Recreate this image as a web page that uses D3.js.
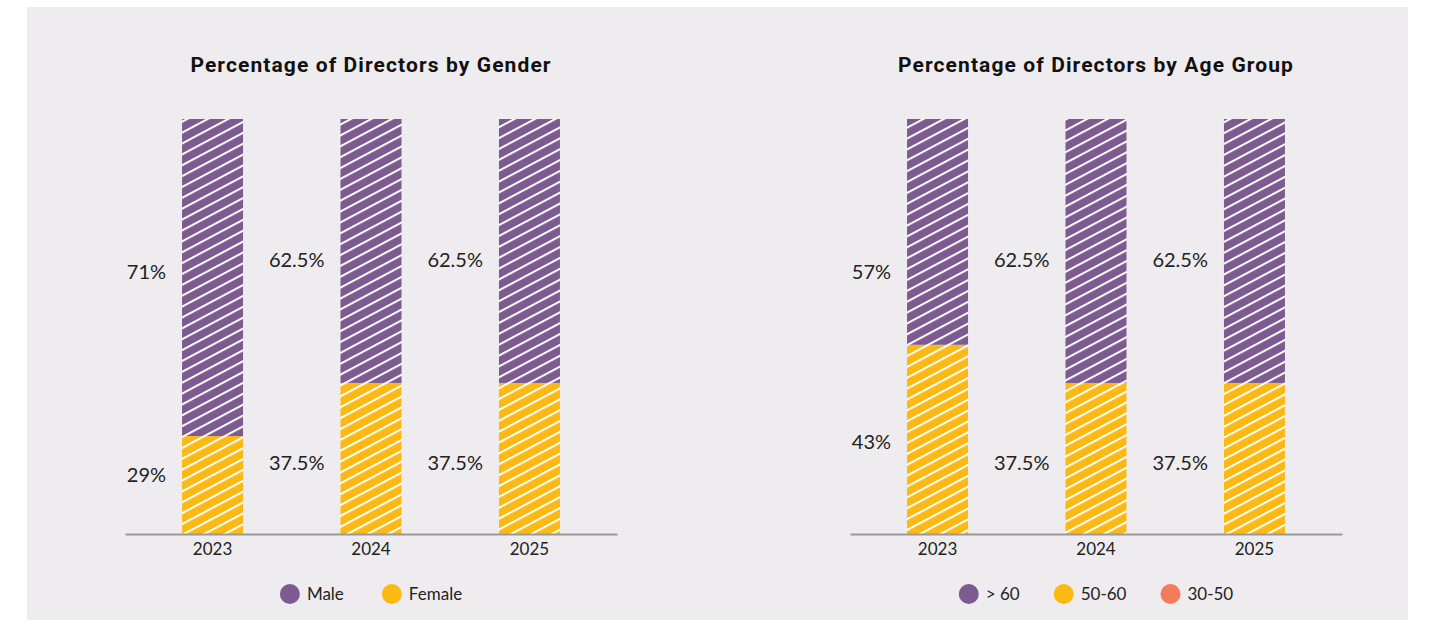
<!DOCTYPE html>
<html>
<head>
<meta charset="utf-8">
<script src="https://cdn.jsdelivr.net/npm/d3@7"></script>
<style>
  body { margin: 0; background: #fff; }
  svg { display: block; }
</style>
</head>
<body>
<div id="chart"></div>
<script>
const years = ["2023", "2024", "2025"];

const genderSeries = ["Male", "Female"];
const genderMale = [76.4, 63.6, 63.6];
const genderFemale = [23.6, 36.4, 36.4];
const genderMaleLabels = ["71%", "62.5%", "62.5%"];
const genderFemaleLabels = ["29%", "37.5%", "37.5%"];

const ageSeries = ["> 60", "50-60", "30-50"];
const ageOver60 = [54.4, 63.6, 63.6];
const age50to60 = [45.6, 36.4, 36.4];
const age30to50 = [0, 0, 0];
const ageOver60Labels = ["57%", "62.5%", "62.5%"];
const age50to60Labels = ["43%", "37.5%", "37.5%"];

/** CONSTANTS */
const width = 1454;
const height = 620;
const colors = ["#7d5a8f", "#fdb913", "#f47c5a"];
const barTop = 119, baseline = 534;
const textFont = "Lato, 'Open Sans', sans-serif";

const svg = d3.select("#chart")
  .append("svg")
  .attr("width", width)
  .attr("height", height);

// hatch patterns: white diagonal stripes on each colour
const defs = svg.append("defs");
colors.forEach((c, i) => {
  const p = defs.append("pattern")
    .attr("id", "hatch" + i)
    .attr("patternUnits", "userSpaceOnUse")
    .attr("width", 10)
    .attr("height", 9.6)
    .attr("patternTransform", "rotate(-28)");
  p.append("rect").attr("width", 10).attr("height", 9.6).attr("fill", c);
  p.append("rect").attr("y", 0).attr("width", 10).attr("height", 2).attr("fill", "#fff");
});

// panel background
svg.append("rect")
  .attr("x", 27).attr("y", 7)
  .attr("width", 1381).attr("height", 620)
  .attr("fill", "#eeecef");

function drawChart(opts) {
  const g = svg.append("g");

  const x = d3.scaleBand()
    .domain(years)
    .range([opts.x0, opts.x1])
    .paddingInner(0.615)
    .paddingOuter(0.36);

  const y = d3.scaleLinear()
    .domain([0, 100])
    .range([baseline, barTop]);

  const rows = years.map((yr, i) => ({ year: yr, lower: opts.lower[i], upper: opts.upper[i] }));
  const stack = d3.stack().keys(["lower", "upper"])(rows);

  // title
  g.append("text")
    .attr("x", (opts.x0 + opts.x1) / 2)
    .attr("y", 72)
    .attr("text-anchor", "middle")
    .attr("font-family", "Roboto, sans-serif")
    .attr("font-weight", 700)
    .attr("font-size", 21)
    .attr("letter-spacing", 1.1)
    .attr("fill", "#111")
    .text(opts.title);

  // stacked bars
  g.selectAll("g.layer")
    .data(stack)
    .join("g")
    .attr("class", "layer")
    .attr("fill", (d, i) => `url(#hatch${i === 0 ? 1 : 0})`)
    .selectAll("rect")
    .data(d => d)
    .join("rect")
    .attr("x", d => x(d.data.year))
    .attr("width", x.bandwidth())
    .attr("y", d => y(d[1]))
    .attr("height", d => y(d[0]) - y(d[1]));

  // value labels to the left of each bar
  const labelRows = [];
  years.forEach((yr, i) => {
    labelRows.push({ year: yr, text: opts.upperLabels[i], level: opts.upperLevel[i] });
    labelRows.push({ year: yr, text: opts.lowerLabels[i], level: opts.lowerLevel[i] });
  });
  g.selectAll("text.value")
    .data(labelRows)
    .join("text")
    .attr("class", "value")
    .attr("x", d => x(d.year) - 16)
    .attr("y", d => y(d.level))
    .attr("dy", "0.35em")
    .attr("text-anchor", "end")
    .attr("font-family", textFont)
    .attr("font-size", 20)
    .attr("fill", "#222")
    .text(d => d.text);

  // x axis
  const axis = g.append("g")
    .attr("transform", `translate(0,${baseline})`)
    .call(d3.axisBottom(x).tickSize(0).tickSizeOuter(0).tickPadding(9));
  axis.select(".domain").attr("stroke", "#999").attr("stroke-width", 2);
  axis.selectAll("text")
    .attr("font-family", textFont)
    .attr("font-size", 17)
    .attr("fill", "#222");

  // legend
  const legend = g.append("g").attr("transform", "translate(0,594)");
  let cursor = 0;
  opts.series.forEach((name, i) => {
    const item = legend.append("g").attr("transform", `translate(${cursor},0)`);
    item.append("circle").attr("cx", 10).attr("r", 10).attr("fill", colors[i]);
    const t = item.append("text")
      .attr("x", 27)
      .attr("dy", "0.35em")
      .attr("font-family", textFont)
      .attr("font-size", 17)
      .attr("fill", "#222")
      .text(name);
    cursor += 27 + t.node().getComputedTextLength() + opts.legendGap;
  });
  const legendWidth = cursor - opts.legendGap;
  legend.attr("transform", `translate(${(opts.x0 + opts.x1) / 2 - legendWidth / 2},594)`);
}

// label levels, in percent of bar height
drawChart({
  title: "Percentage of Directors by Gender",
  x0: 125, x1: 617,
  upper: genderMale, lower: genderFemale,
  upperLabels: genderMaleLabels, lowerLabels: genderFemaleLabels,
  upperLevel: [63.1, 66, 66], lowerLevel: [14.2, 17.1, 17.1],
  series: genderSeries, legendGap: 38
});

drawChart({
  title: "Percentage of Directors by Age Group",
  x0: 850, x1: 1342,
  upper: ageOver60, lower: age50to60,
  upperLabels: ageOver60Labels, lowerLabels: age50to60Labels,
  upperLevel: [63.1, 66, 66], lowerLevel: [22.2, 17.1, 17.1],
  series: ageSeries, legendGap: 34
});
</script>
</body>
</html>
